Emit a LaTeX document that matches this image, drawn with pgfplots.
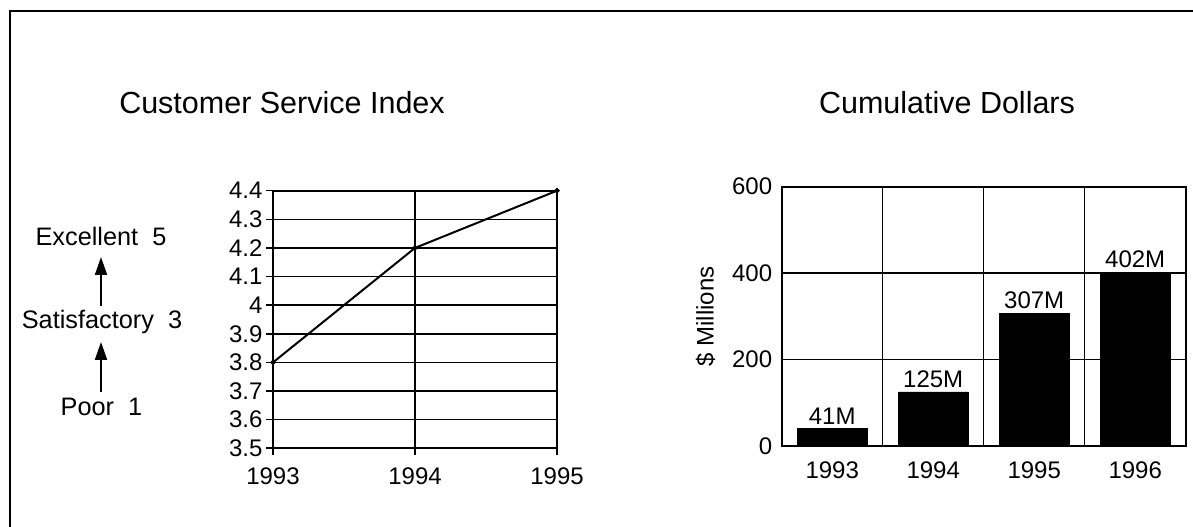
\documentclass[border=0pt]{standalone}
\usepackage{fontspec}
\setmainfont{Liberation Sans}
\usepackage{pgfplots}
\pgfplotsset{compat=1.18}
\usetikzlibrary{arrows.meta}
\pgfplotstableread{
x y lab
0.5 41 41M
1.5 125 125M
2.5 307 307M
3.5 402 402M
}\bardata
\newcommand{\tf}{\fontsize{24bp}{26bp}\selectfont}
\newcommand{\sidef}{\fontsize{25.3bp}{27bp}\selectfont}
\begin{document}
\begin{tikzpicture}
\begin{scope}[x=1bp,y=1bp]
\useasboundingbox (0,0) rectangle (1193,527);
\draw[line width=2.5bp] (10,0) -- (10,516) -- (1193,516);
\node[anchor=base,font=\fontsize{30.5bp}{34bp}\selectfont] at (282,413) {Customer Service Index};
\node[anchor=base,font=\fontsize{30.5bp}{34bp}\selectfont] at (947,413) {Cumulative Dollars};
\node[font=\sidef] at (101,291) {Excellent\ \ 5};
\node[font=\sidef] at (102,205) {Satisfactory\ \ 3};
\node[font=\sidef] at (101.5,120) {Poor\ \ 1};
\draw[line width=2bp,-{Triangle[length=18bp,width=12bp]}] (101,221) -- (101,270);
\draw[line width=2bp,-{Triangle[length=18bp,width=12bp]}] (101,135) -- (101,185);
\end{scope}
\begin{axis}[at={(273bp,78.7bp)}, anchor=south west, scale only axis,
  width=284bp, height=257.6bp,
  xmin=1993, xmax=1995, ymin=3.5, ymax=4.4,
  xtick={1993,1994,1995}, xticklabels={1993,1994,1995},
  ytick={3.5,3.6,3.7,3.8,3.9,4.0,4.1,4.2,4.3,4.4},
  yticklabels={3.5,3.6,3.7,3.8,3.9,4,4.1,4.2,4.3,4.4},
  grid=major, grid style={black, line width=1.6bp},
  axis line style={line width=2bp},
  tick style={black, line width=1.6bp},
  tick align=outside, major tick length=7bp,
  xtick pos=bottom, ytick pos=left,
  tick label style={font=\tf},
  xticklabel style={yshift=-9bp},
  /pgf/number format/assume math mode=true,
]
\addplot[black, line width=2bp, mark=*, mark size=1.6bp] coordinates {(1993,3.8) (1994,4.2) (1995,4.4)};
\end{axis}
\begin{axis}[at={(781.7bp,81bp)}, anchor=south west, scale only axis,
  width=404bp, height=259.3bp,
  xmin=0, xmax=4, ymin=0, ymax=600,
  xtick={0.5,1.5,2.5,3.5}, xticklabels={1993,1994,1995,1996},
  extra x ticks={1,2,3}, extra x tick labels={},
  extra x tick style={xmajorgrids=true, major tick length=0pt},
  ytick={0,200,400,600}, ymajorgrids,
  grid style={black, line width=1.5bp},
  axis line style={line width=2bp},
  major tick length=0pt,
  tick label style={font=\tf},
  xticklabel style={yshift=-12bp},
  yticklabel style={xshift=-6bp},
  /pgf/number format/assume math mode=true,
  ylabel={\$ Millions}, ylabel style={font=\tf, yshift=10bp},
  ybar, bar width=0.69,
  nodes near coords, point meta=explicit symbolic,
  nodes near coords style={font=\tf, inner sep=0pt, anchor=south, yshift=4bp},
]
\addplot[fill=black, draw=black] table[x=x, y=y, meta=lab] {\bardata};
\end{axis}
\end{tikzpicture}
\end{document}
